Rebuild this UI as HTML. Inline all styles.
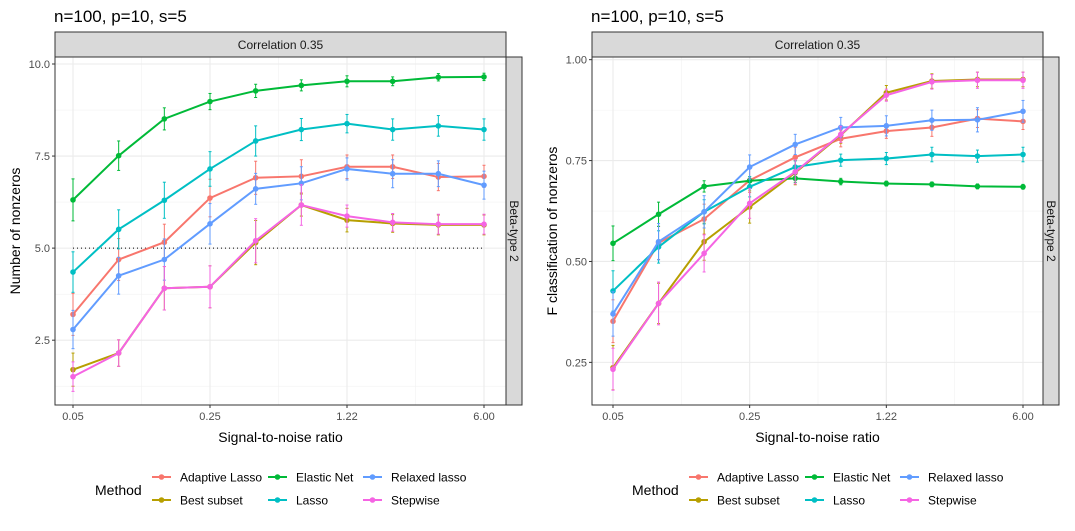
<!DOCTYPE html>
<html><head><meta charset="utf-8">
<style>
body{margin:0;background:#fff;font-family:"Liberation Sans",Arial,sans-serif;}
svg text{font-family:"Liberation Sans",Arial,sans-serif;}
</style></head>
<body>
<svg id="chart" width="1075" height="526" xmlns="http://www.w3.org/2000/svg"></svg>
<script>
const categories=["0.05","0.09","0.14","0.25","0.42","0.71","1.22","2.07","3.52","6.00"];
const tickLabels=["0.05","0.25","1.22","6.00"];
const methods=["Adaptive Lasso","Best subset","Elastic Net","Lasso","Relaxed lasso","Stepwise"];
const colors=["#F8766D","#B79F00","#00BA38","#00BFC4","#619CFF","#F564E3"];
// Left panel: Number of nonzeros
const nzAdaptive=[3.20,4.69,5.16,6.36,6.91,6.95,7.21,7.21,6.93,6.95];
const nzBest=[1.70,2.15,3.91,3.95,5.15,6.17,5.76,5.67,5.63,5.63];
const nzElastic=[6.31,7.51,8.51,8.98,9.27,9.42,9.53,9.53,9.64,9.65];
const nzLasso=[4.35,5.51,6.30,7.15,7.91,8.22,8.38,8.22,8.32,8.22];
const nzRelaxed=[2.79,4.25,4.69,5.66,6.61,6.76,7.15,7.02,7.02,6.71];
const nzStep=[1.51,2.15,3.91,3.95,5.20,6.17,5.87,5.70,5.65,5.65];
const nzErrAdaptive=[0.57,0.57,0.49,0.51,0.45,0.45,0.32,0.32,0.37,0.30];
const nzErrBest=[0.45,0.36,0.59,0.57,0.60,0.30,0.32,0.24,0.27,0.27];
const nzErrElastic=[0.57,0.40,0.30,0.22,0.18,0.15,0.15,0.12,0.10,0.10];
const nzErrLasso=[0.55,0.53,0.49,0.47,0.41,0.30,0.25,0.29,0.28,0.29];
const nzErrRelaxed=[0.52,0.50,0.56,0.55,0.42,0.45,0.30,0.38,0.35,0.38];
const nzErrStep=[0.40,0.36,0.59,0.57,0.60,0.55,0.30,0.24,0.27,0.27];
const leftTicks=[2.5,5.0,7.5,10.0];
// Right panel: F classification
const fAdaptive=[0.352,0.546,0.605,0.701,0.758,0.804,0.823,0.832,0.854,0.847];
const fBest=[0.237,0.396,0.549,0.635,0.720,0.813,0.918,0.947,0.951,0.951];
const fElastic=[0.545,0.617,0.686,0.700,0.706,0.698,0.693,0.691,0.686,0.685];
const fLasso=[0.427,0.536,0.623,0.685,0.734,0.751,0.755,0.765,0.761,0.765];
const fRelaxed=[0.370,0.549,0.623,0.734,0.790,0.832,0.836,0.850,0.851,0.872];
const fStep=[0.233,0.396,0.520,0.644,0.722,0.815,0.912,0.945,0.949,0.949];
const fErrAdaptive=[0.053,0.041,0.037,0.030,0.025,0.020,0.018,0.022,0.022,0.020];
const fErrBest=[0.055,0.050,0.046,0.040,0.030,0.020,0.018,0.018,0.018,0.018];
const fErrElastic=[0.043,0.030,0.014,0.010,0.010,0.008,0.006,0.006,0.006,0.006];
const fErrLasso=[0.050,0.040,0.030,0.025,0.015,0.015,0.015,0.018,0.015,0.018];
const fErrRelaxed=[0.055,0.045,0.040,0.030,0.025,0.025,0.025,0.025,0.030,0.027];
const fErrStep=[0.052,0.053,0.046,0.037,0.030,0.020,0.015,0.018,0.020,0.020];
const rightTicks=[0.25,0.50,0.75,1.00];

const NS="http://www.w3.org/2000/svg";
const svg=document.getElementById('chart');
function mk(tag,attrs,parent,txt){const e=document.createElementNS(NS,tag);for(const k in attrs)e.setAttribute(k,attrs[k]);if(txt!==undefined)e.textContent=txt;(parent||svg).appendChild(e);return e;}

function panel(cfg){
  const g=mk('g',{});
  
  
  const L=cfg.left,R=cfg.right,T=57,B=405;
  const xs=i=>cfg.x0+i*(cfg.x9-cfg.x0)/9;
  const ys=v=>T+(cfg.ymax-v)/(cfg.ymax-cfg.ymin)*(B-T);
  // title
  const tt=mk('text',{x:L-1,y:22,'font-size':17,fill:'#000'},g,'n=100, p=10, s=5');
  
  
  // grid minor
  for(let k=0;k<cfg.ticks.length+1;k++){
    const v=cfg.ticks[0]-(cfg.ticks[1]-cfg.ticks[0])/2+k*(cfg.ticks[1]-cfg.ticks[0]);
    const y=ys(v); if(y<T||y>B) continue;
    mk('line',{x1:L,x2:R,y1:y,y2:y,stroke:'#F2F2F2','stroke-width':0.6},g);
  }
  [1.5,4.5,7.5].forEach(i=>mk('line',{x1:xs(i),x2:xs(i),y1:T,y2:B,stroke:'#F2F2F2','stroke-width':0.6},g));
  // grid major
  cfg.ticks.forEach(v=>{const y=ys(v);mk('line',{x1:L,x2:R,y1:y,y2:y,stroke:'#EBEBEB','stroke-width':1.1},g);
    mk('line',{x1:L-3,x2:L,y1:y,y2:y,stroke:'#333','stroke-width':1},g);
    const t=mk('text',{x:L-5,y:y+4,'font-size':11,fill:'#4D4D4D','text-anchor':'end'},g,v.toFixed(cfg.dec));
    
    
  });
  [0,3,6,9].forEach((i,j)=>{const x=xs(i);mk('line',{x1:x,x2:x,y1:T,y2:B,stroke:'#EBEBEB','stroke-width':1.1},g);
    mk('line',{x1:x,x2:x,y1:B,y2:B+3,stroke:'#333','stroke-width':1},g);
    const t=mk('text',{x:x,y:B+15,'font-size':11,fill:'#4D4D4D','text-anchor':'middle'},g,tickLabels[j]);
    
    
  });
  if(cfg.refLine!==undefined){const y=ys(cfg.refLine);const rl=mk('line',{x1:xs(0),x2:xs(9),y1:y,y2:y,stroke:'#000','stroke-width':1,'stroke-dasharray':'1,3'},g);
    
    }
  // series
  cfg.series.forEach((s,si)=>{
    const sg=mk('g',{},g);
    
    
    const c=colors[si];
    s.forEach((v,i)=>{const e=cfg.errs[si][i];const x=xs(i);
      mk('line',{x1:x,x2:x,y1:ys(v-e),y2:ys(v+e),stroke:c,'stroke-width':1},sg);
      mk('line',{x1:x-1.5,x2:x+1.5,y1:ys(v-e),y2:ys(v-e),stroke:c,'stroke-width':1},sg);
      mk('line',{x1:x-1.5,x2:x+1.5,y1:ys(v+e),y2:ys(v+e),stroke:c,'stroke-width':1},sg);
    });
    mk('polyline',{points:s.map((v,i)=>xs(i)+','+ys(v)).join(' '),fill:'none',stroke:c,'stroke-width':2},sg);
    s.forEach((v,i)=>{const p=mk('circle',{cx:xs(i),cy:ys(v),r:2.8,fill:c},sg);
      
      });
  });
  // border
  mk('rect',{x:L,y:T,width:R-L,height:B-T,fill:'none',stroke:'#333','stroke-width':1},g);
  // top strip
  const st=mk('g',{},g);
  
  
  mk('rect',{x:L,y:32,width:R-L,height:T-32,fill:'#D9D9D9',stroke:'#333','stroke-width':1},st);
  mk('text',{x:(L+R)/2,y:49,'font-size':12,fill:'#1A1A1A','text-anchor':'middle'},st,'Correlation 0.35');
  const sr=mk('g',{},g);
  
  
  mk('rect',{x:R,y:T,width:16,height:B-T,fill:'#D9D9D9',stroke:'#333','stroke-width':1},sr);
  mk('text',{x:R+4,y:(T+B)/2,'font-size':12,fill:'#1A1A1A','text-anchor':'middle',transform:`rotate(90 ${R+4} ${(T+B)/2})`},sr,'Beta-type 2');
  // axis titles
  const xt=mk('text',{x:(L+R)/2,y:442,'font-size':14,fill:'#000','text-anchor':'middle'},g,'Signal-to-noise ratio');
  
  
  const ytx=cfg.ytitleX,ytc=(T+B)/2;
  const yt=mk('text',{x:ytx,y:ytc,'font-size':14,fill:'#000','text-anchor':'middle',transform:`rotate(-90 ${ytx} ${ytc})`},g,cfg.ytitle);
  
  
  // legend
  const lg=mk('g',{},g);
  
  
  const o=cfg.legOff;
  mk('text',{x:95+o,y:495,'font-size':14,fill:'#000'},lg,'Method');
  const colX=[152,268,363],rowY=[477,500];
  methods.forEach((m,i)=>{const col=Math.floor(i/2),row=i%2;const kx=colX[col]+o,ky=rowY[row];
    const en=mk('g',{},lg);
    
    
    mk('line',{x1:kx,x2:kx+19,y1:ky,y2:ky,stroke:colors[i],'stroke-width':2},en);
    mk('circle',{cx:kx+9.5,cy:ky,r:2.8,fill:colors[i]},en);
    mk('text',{x:kx+28,y:ky+4.5,'font-size':12,fill:'#000'},en,m);
  });
}
panel({name:'panel-nonzeros',left:55,right:506,x0:73,x9:484,ymin:0.74,ymax:10.19,ticks:leftTicks,dec:1,refLine:5,
  series:[nzAdaptive,nzBest,nzElastic,nzLasso,nzRelaxed,nzStep],
  errs:[nzErrAdaptive,nzErrBest,nzErrElastic,nzErrLasso,nzErrRelaxed,nzErrStep],
  ytitle:'Number of nonzeros',ytitleX:20,legOff:0});
panel({name:'panel-f-classification',left:592,right:1043,x0:613,x9:1023,ymin:0.1444,ymax:1.0066,ticks:rightTicks,dec:2,
  series:[fAdaptive,fBest,fElastic,fLasso,fRelaxed,fStep],
  errs:[fErrAdaptive,fErrBest,fErrElastic,fErrLasso,fErrRelaxed,fErrStep],
  ytitle:'F classification of nonzeros',ytitleX:557,legOff:537});
</script>
</body></html>
